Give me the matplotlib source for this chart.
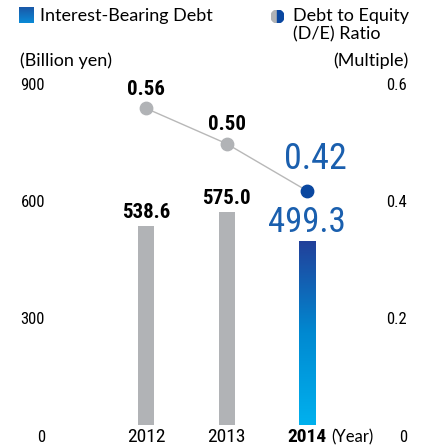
import numpy as np
import matplotlib.pyplot as plt
import matplotlib.transforms as transforms
from matplotlib.colors import LinearSegmentedColormap
from matplotlib.patches import Wedge

# data
years = ['2012', '2013', '2014']
debt = [538.6, 575.0, 499.3]
de_ratio = [0.56, 0.50, 0.42]
left_ticks = [0, 300, 600, 900]
right_ticks = [0, 0.2, 0.4, 0.6]

narrow = ['Roboto Condensed', 'Liberation Sans Narrow', 'DejaVu Sans']
regular = ['Lato', 'DejaVu Sans']

grey = '#b1b3b6'
blue = '#1a5fae'
dark_blue = '#0a47a0'
grad = LinearSegmentedColormap.from_list('grad', ['#00b1ee', '#0089d1', '#22409a'])

fig = plt.figure(figsize=(4.24, 4.48), dpi=100)
ax = fig.add_axes([30/424, 23/448, 370/424, 340/448])
ymin = 30.7
ax.set_xlim(-1.45, 3.1625)
ax.set_ylim(ymin, 900)
ax.axis('off')

x = np.arange(len(years))
bars = ax.bar(x, debt, width=0.2, color=[grey, grey, 'none'], zorder=2)

# gradient for the latest bar
b = bars[-1]
img = np.linspace(0, 1, 256).reshape(-1, 1)
im = ax.imshow(img, cmap=grad, aspect='auto', origin='lower',
               extent=[b.get_x(), b.get_x() + b.get_width(), ymin, b.get_height()], zorder=2)
ax.set_xlim(-1.45, 3.1625)
ax.set_ylim(ymin, 900)

# bar labels
for i, v in enumerate(debt):
    if i == len(debt) - 1:
        ax.annotate(f'{v:.1f}', (i, v), xytext=(0, 2), textcoords='offset points',
                    ha='center', va='bottom', fontsize=25, color=blue, family=narrow, fontstretch='condensed')
    else:
        ax.annotate(f'{v:.1f}', (i, v), xytext=(0, 3), textcoords='offset points',
                    ha='center', va='bottom', fontsize=15, fontweight='bold', color='black', family=narrow,
                    fontstretch='condensed')

# ratio line
ax2 = ax.twinx()
ax2.set_ylim(ymin / 1500, 0.6)
ax2.axis('off')
ax2.plot(x, de_ratio, color='#b8b8b8', lw=1, zorder=3)
ax2.scatter(x[:-1], de_ratio[:-1], s=80, color=grey, zorder=4)
ax2.scatter(x[-1:], de_ratio[-1:], s=80, color=dark_blue, zorder=4)
for i, v in enumerate(de_ratio):
    if i == len(de_ratio) - 1:
        ax2.annotate(f'{v:.2f}', (i, v), xytext=(6, 10), textcoords='offset points',
                     ha='center', va='bottom', fontsize=26, color=blue, family=narrow, fontstretch='condensed')
    else:
        ax2.annotate(f'{v:.2f}', (i, v), xytext=(0, 7), textcoords='offset points',
                     ha='center', va='bottom', fontsize=15, fontweight='bold', color='black', family=narrow,
                     fontstretch='condensed')

# tick labels
tl = transforms.blended_transform_factory(ax.transAxes, ax.transData)
for v in left_ticks:
    ax.text(0.0405, v, str(v), transform=tl, ha='right', va='center', fontsize=12, family=narrow,
            fontstretch='condensed')
tr = transforms.blended_transform_factory(ax2.transAxes, ax2.transData)
for v in right_ticks:
    ax2.text(1.019, v, f'{v:g}', transform=tr, ha='right', va='center', fontsize=12, family=narrow,
             fontstretch='condensed')

for i, y in enumerate(years):
    ax.text(i, 0, y, ha='center', va='center', fontsize=14, family=narrow, fontstretch='condensed',
            fontweight='bold' if i == len(years) - 1 else 'normal', zorder=5)
ax.text(len(years) - 1 + 0.31, 0, '(Year)', ha='left', va='center', fontsize=12, family=regular)

# header / legend
lg = fig.add_axes([19/424, 1 - 23/448, 15/424, 16/448])
lg.imshow(np.linspace(0, 1, 64).reshape(-1, 1), cmap=LinearSegmentedColormap.from_list('l', ['#1a58a8', '#0a8ad6']),
          aspect='auto')
lg.axis('off')
fig.text(40/424, 1 - 16/448, 'Interest-Bearing Debt', ha='left', va='center', fontsize=13, family=regular)

ic = fig.add_axes([271/424, 1 - 23/448, 13/424, 13/448])
ic.add_patch(Wedge((0, 0), 1, 90, 270, color=grey))
ic.add_patch(Wedge((0, 0), 1, -90, 90, color=dark_blue))
ic.set_xlim(-1, 1)
ic.set_ylim(-1, 1)
ic.axis('off')
fig.text(293/424, 1 - 8/448, 'Debt to Equity\n(D/E) Ratio', ha='left', va='top', fontsize=13,
         family=regular, linespacing=1.2)

fig.text(20/424, 1 - 61/448, '(Billion yen)', ha='left', va='center', fontsize=13, family=regular)
fig.text(408/424, 1 - 61/448, '(Multiple)', ha='right', va='center', fontsize=13, family=regular)

plt.savefig('out.png', dpi=100)
